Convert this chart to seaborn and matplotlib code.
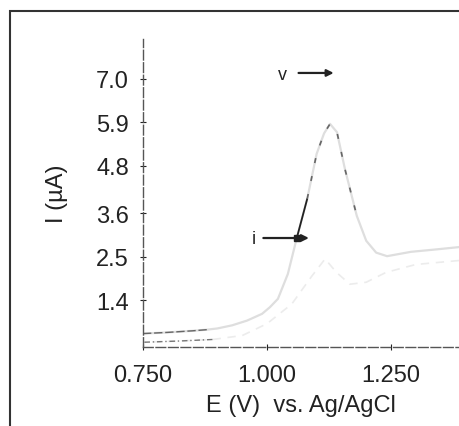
import matplotlib
matplotlib.use("Agg")
import matplotlib.pyplot as plt
from matplotlib.patches import Rectangle
import seaborn as sns
import pandas as pd

# ---- data ----
E_fwd = [0.750, 0.800, 0.850, 0.880, 0.900, 0.930, 0.960, 0.990, 1.006, 1.022,
         1.042, 1.060, 1.081, 1.100, 1.115, 1.127, 1.141, 1.157, 1.181, 1.200,
         1.220, 1.242, 1.290, 1.340, 1.387]
I_fwd = [0.55, 0.58, 0.62, 0.65, 0.68, 0.76, 0.88, 1.05, 1.22, 1.43,
         2.06, 2.97, 3.96, 5.10, 5.62, 5.86, 5.65, 4.72, 3.53, 2.90,
         2.60, 2.51, 2.62, 2.68, 2.74]
E_rev = [1.387, 1.300, 1.240, 1.200, 1.167, 1.140, 1.117, 1.090, 1.050, 1.000,
         0.950, 0.890, 0.820, 0.750]
I_rev = [2.40, 2.30, 2.10, 1.85, 1.80, 2.10, 2.44, 2.00, 1.30, 0.80,
         0.50, 0.40, 0.36, 0.33]
y_ticks = [1.4, 2.5, 3.6, 4.8, 5.9, 7.0]
x_ticks = [0.750, 1.000, 1.250]
marker_i = (1.060, 2.97)

sns.set_theme(style="white")
plt.rcParams['font.family'] = ['Liberation Sans', 'DejaVu Sans']

fig = plt.figure(figsize=(4.59, 4.27), dpi=100)
ax = fig.add_axes([143/459, 79/427, (459-143)/459, 308/427])

fwd = pd.DataFrame({"E": E_fwd, "I": I_fwd})
rev = pd.DataFrame({"E": E_rev, "I": I_rev})

# faint traces
sns.lineplot(data=rev, x="E", y="I", sort=False, estimator=None, ax=ax,
             color="#ececec", lw=1.2, linestyle=(0, (5, 4)))
sns.lineplot(data=fwd, x="E", y="I", sort=False, estimator=None, ax=ax,
             color="#dedede", lw=1.6)
# darker portions
sns.lineplot(data=fwd.iloc[11:13], x="E", y="I", sort=False, estimator=None, ax=ax,
             color="#222222", lw=1.3)
sns.lineplot(data=fwd.iloc[12:19], x="E", y="I", sort=False, estimator=None, ax=ax,
             color="#666666", lw=1.2, linestyle=(0, (3, 8)))
sns.lineplot(data=fwd.iloc[0:4], x="E", y="I", sort=False, estimator=None, ax=ax,
             color="#666666", lw=1.0, linestyle=(0, (6, 2)))
sns.lineplot(data=rev.iloc[11:14], x="E", y="I", sort=False, estimator=None, ax=ax,
             color="#777777", lw=1.0, linestyle=(0, (4, 2, 1, 2)))

# annotations
ax.annotate("", xy=(1.090, marker_i[1]), xytext=(0.987, marker_i[1]),
            arrowprops=dict(arrowstyle="-|>", color="#222222", lw=1.6,
                            mutation_scale=10))
ax.plot([marker_i[0]], [marker_i[1]], marker="s", ms=5, color="#222222")
ax.text(0.974, marker_i[1], "i", ha="center", va="center", fontsize=13, color="#222222")
ax.text(1.032, 7.1, "v", ha="center", va="center", fontsize=13, color="#222222")
ax.annotate("", xy=(1.140, 7.15), xytext=(1.058, 7.15),
            arrowprops=dict(arrowstyle="-|>", color="#222222", lw=1.6,
                            mutation_scale=10))

ax.set_xlim(0.75, 1.387)
ax.set_ylim(0.21, 8.01)
ax.set_xticks(x_ticks)
ax.set_xticklabels([f"{v:.3f}" for v in x_ticks])
ax.set_yticks(y_ticks)
ax.set_yticklabels([f"{v:.1f}" for v in y_ticks])
ax.tick_params(axis="both", labelsize=17, colors="#222222", direction="inout",
               length=4, width=0.8, left=True, bottom=True)
ax.tick_params(axis="y", pad=8)
ax.tick_params(axis="x", pad=10)
ax.set_xlabel("E (V)  vs. Ag/AgCl", fontsize=17, color="#222222", labelpad=6)
ax.set_ylabel("I (µA)", fontsize=17, color="#222222", labelpad=20)

for s in ["top", "right"]:
    ax.spines[s].set_visible(False)
for s in ["left", "bottom"]:
    ax.spines[s].set_linestyle((0, (7, 2)))
    ax.spines[s].set_color("#555555")
    ax.spines[s].set_linewidth(1.0)
ax.set_facecolor("white")

# outer border (partly cropped in the reference)
fig.add_artist(Rectangle((10/459, -0.1), 1.2, 1.1 - 12/427, transform=fig.transFigure,
                         fill=False, lw=1.5, ec="#333333"))

fig.savefig("out.png", dpi=100, facecolor="white")
